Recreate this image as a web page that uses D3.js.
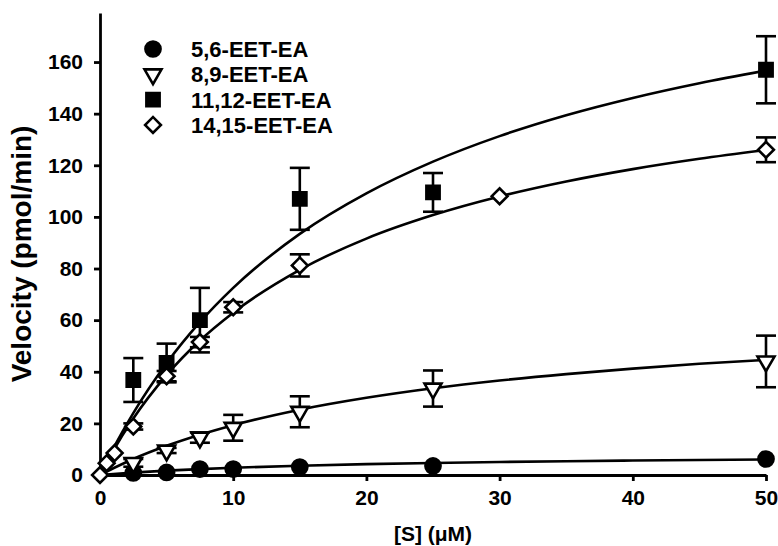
<!DOCTYPE html>
<html>
<head>
<meta charset="utf-8">
<script src="https://cdn.jsdelivr.net/npm/d3@7"></script>
<style>
  body { margin: 0; background: #fff; }
  svg { font-family: "Liberation Sans", Arial, sans-serif; font-weight: bold; }
</style>
</head>
<body>
<div id="chart"></div>
<script>
// substrate concentrations (uM) and measured velocities (pmol/min)
const series = ["5,6-EET-EA", "8,9-EET-EA", "11,12-EET-EA", "14,15-EET-EA"];

const s56 = [2.5, 5, 7.5, 10, 15, 25, 50];
const v56 = [0.8, 1.0, 2.3, 2.3, 3.1, 3.5, 6.2];
const e56 = [0, 0, 0, 0, 0, 0, 0];

const s89 = [2.5, 5, 7.5, 10, 15, 25, 50];
const v89 = [4.7, 9.5, 14.5, 18.3, 24.5, 33.5, 44];
const e89 = [1.5, 1, 2, 5, 6, 7, 10];

const s1112 = [2.5, 5, 7.5, 15, 25, 50];
const v1112 = [36.8, 43.4, 60, 107, 109.5, 157];
const e1112 = [8.5, 7.5, 12.5, 12, 7.5, 13];

const s1415 = [0, 0.5, 1.1, 2.5, 5, 7.5, 10, 15, 30, 50];
const v1415 = [0, 4.6, 8.5, 18.8, 38.3, 51.5, 65, 81.2, 108, 126];
const e1415 = [0, 0, 0, 1.2, 2, 2, 2, 4.3, 0, 4.8];

// fitted curves
const fitS = [0, 1, 2.5, 5, 7.5, 10, 15, 20, 25, 30, 35, 40, 45, 50];
const fit56 = [0, 0.4, 0.93, 1.68, 2.29, 2.8, 3.6, 4.2, 4.67, 5.04, 5.35, 5.6, 5.82, 6.0];
const fit89 = [0, 2.6, 6.2, 11.3, 15.6, 19.3, 25.3, 29.9, 33.6, 36.6, 39.1, 41.2, 43.1, 44.6];
const fit1112 = [0, 10.3, 24.0, 43.3, 59.2, 72.5, 93.4, 109.1, 121.4, 131.3, 139.4, 146.1, 151.8, 156.7];
const fit1415 = [0, 9.5, 21.9, 38.7, 52.1, 62.9, 79.5, 91.6, 100.7, 107.9, 113.7, 118.5, 122.5, 125.9];

const xTicks = [0, 10, 20, 30, 40, 50];
const yTicks = [0, 20, 40, 60, 80, 100, 120, 140, 160];

const width = 778, height = 546;

const svg = d3.select("#chart").append("svg")
  .attr("width", width)
  .attr("height", height);

const x = d3.scaleLinear().domain([0, 50]).range([100, 766]);
const y = d3.scaleLinear().domain([0, 179]).range([475, 13]);

// axes
const xAxis = svg.append("g")
  .attr("transform", "translate(0,475)")
  .call(d3.axisBottom(x).tickValues(xTicks).tickSize(6).tickSizeOuter(0).tickPadding(9));
const yAxis = svg.append("g")
  .attr("transform", "translate(100,0)")
  .call(d3.axisLeft(y).tickValues(yTicks).tickSize(6).tickSizeOuter(0).tickPadding(11));

[xAxis, yAxis].forEach(g => {
  g.selectAll("path, line").attr("stroke", "#000").attr("stroke-width", 2.8);
  g.selectAll("text").attr("fill", "#000").attr("font-size", 21).attr("font-weight", "bold")
    .attr("font-family", "'Liberation Sans', Arial, sans-serif");
});

// axis titles
svg.append("text")
  .attr("transform", "translate(31,254) rotate(-90)")
  .attr("text-anchor", "middle")
  .attr("font-size", 28)
  .text("Velocity (pmol/min)");

svg.append("text")
  .attr("x", 433)
  .attr("y", 541)
  .attr("text-anchor", "middle")
  .attr("font-size", 21)
  .text("[S] (\u03BCM)");

// fitted lines
const line = d3.line()
  .x(d => x(d[0]))
  .y(d => y(d[1]))
  .curve(d3.curveMonotoneX);

[fit56, fit89, fit1112, fit1415].forEach(f => {
  svg.append("path")
    .datum(fitS.map((s, i) => [s, f[i]]))
    .attr("d", line)
    .attr("fill", "none")
    .attr("stroke", "#000")
    .attr("stroke-width", 2.6);
});

// symbols
const symbols = [
  { type: d3.symbolCircle, size: 180, fill: "#000", rot: 0 },
  { type: d3.symbolTriangle, size: 125, fill: "#fff", rot: 180 },
  { type: d3.symbolSquare, size: 175, fill: "#000", rot: 0 },
  { type: d3.symbolSquare, size: 125, fill: "#fff", rot: 45 }
];

const groups = [
  [s56, v56, e56],
  [s89, v89, e89],
  [s1112, v1112, e1112],
  [s1415, v1415, e1415]
];

// error bars
groups.forEach(([s, v, e]) => {
  const pts = s.map((d, i) => ({ s: d, v: v[i], e: e[i] })).filter(d => d.e > 0);
  const g = svg.append("g").attr("stroke", "#000").attr("stroke-width", 2.6);
  g.selectAll(".bar").data(pts).enter().append("line")
    .attr("x1", d => x(d.s)).attr("x2", d => x(d.s))
    .attr("y1", d => y(d.v - d.e)).attr("y2", d => y(d.v + d.e));
  g.selectAll(".capTop").data(pts).enter().append("line")
    .attr("x1", d => x(d.s) - 10).attr("x2", d => x(d.s) + 10)
    .attr("y1", d => y(d.v + d.e)).attr("y2", d => y(d.v + d.e));
  g.selectAll(".capBot").data(pts).enter().append("line")
    .attr("x1", d => x(d.s) - 10).attr("x2", d => x(d.s) + 10)
    .attr("y1", d => y(d.v - d.e)).attr("y2", d => y(d.v - d.e));
});

// markers
groups.forEach(([s, v], k) => {
  const sym = symbols[k];
  svg.append("g").selectAll("path")
    .data(s.map((d, i) => [d, v[i]]))
    .enter().append("path")
    .attr("d", d3.symbol().type(sym.type).size(sym.size))
    .attr("transform", d => `translate(${x(d[0])},${y(d[1])}) rotate(${sym.rot})`)
    .attr("fill", sym.fill)
    .attr("stroke", "#000")
    .attr("stroke-width", 2.6);
});

// legend
const legend = svg.append("g");
series.forEach((name, k) => {
  const sym = symbols[k];
  const yy = 49 + k * 25.3;
  legend.append("path")
    .attr("d", d3.symbol().type(sym.type).size(sym.size))
    .attr("transform", `translate(153,${yy}) rotate(${sym.rot})`)
    .attr("fill", sym.fill)
    .attr("stroke", "#000")
    .attr("stroke-width", 2.6);
  legend.append("text")
    .attr("x", 191)
    .attr("y", yy + 8)
    .attr("font-size", 22)
    .text(name);
});
</script>
</body>
</html>
